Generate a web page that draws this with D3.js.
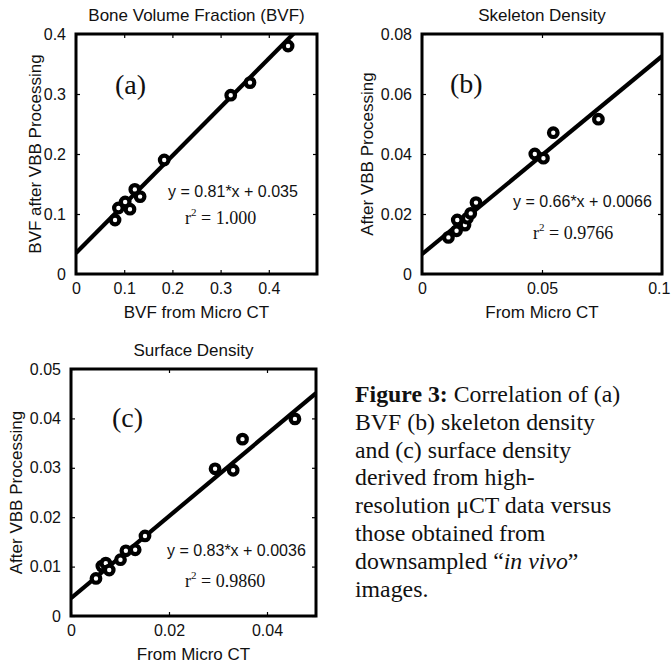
<!DOCTYPE html>
<html>
<head>
<meta charset="utf-8">
<script src="https://cdn.jsdelivr.net/npm/d3@7"></script>
<style>
  html, body { margin: 0; padding: 0; background: #fff; }
  svg { display: block; }
</style>
</head>
<body>
<svg id="chart" width="671" height="666"></svg>
<script>
// ---------------- DATA ----------------
// Panel (a): Bone Volume Fraction
const bvfMicroCT = [0.081, 0.088, 0.102, 0.112, 0.122, 0.133, 0.183, 0.321, 0.361, 0.440];
const bvfVBB     = [0.090, 0.110, 0.120, 0.108, 0.141, 0.129, 0.190, 0.298, 0.319, 0.380];
const bvfFit = [0.81, 0.035];           // slope, intercept
const bvfR2 = "1.000";
const bvfXTicks = [0, 0.1, 0.2, 0.3, 0.4];
const bvfXTickLabels = ["0", "0.1", "0.2", "0.3", "0.4"];
const bvfYTicks = [0, 0.1, 0.2, 0.3, 0.4];
const bvfYTickLabels = ["0", "0.1", "0.2", "0.3", "0.4"];
const bvfXDomain = [0, 0.5];
const bvfYDomain = [0, 0.4];

// Panel (b): Skeleton Density
const skelMicroCT = [0.0110, 0.0144, 0.0147, 0.0179, 0.0189, 0.0203, 0.0225, 0.0470, 0.0506, 0.0547, 0.0735];
const skelVBB     = [0.0122, 0.0144, 0.0180, 0.0163, 0.0186, 0.0202, 0.0238, 0.0400, 0.0386, 0.0471, 0.0516];
const skelFit = [0.66, 0.0066];
const skelR2 = "0.9766";
const skelXTicks = [0, 0.05, 0.1];
const skelXTickLabels = ["0", "0.05", "0.1"];
const skelYTicks = [0, 0.02, 0.04, 0.06, 0.08];
const skelYTickLabels = ["0", "0.02", "0.04", "0.06", "0.08"];
const skelXDomain = [0, 0.1];
const skelYDomain = [0, 0.08];

// Panel (c): Surface Density
const surfMicroCT = [0.0051, 0.0063, 0.0071, 0.0078, 0.0101, 0.0112, 0.0131, 0.0151, 0.0294, 0.0331, 0.0350, 0.0457];
const surfVBB     = [0.0076, 0.0101, 0.0107, 0.0093, 0.0114, 0.0132, 0.0134, 0.0162, 0.0298, 0.0295, 0.0358, 0.0399];
const surfFit = [0.83, 0.0036];
const surfR2 = "0.9860";
const surfXTicks = [0, 0.02, 0.04];
const surfXTickLabels = ["0", "0.02", "0.04"];
const surfYTicks = [0, 0.01, 0.02, 0.03, 0.04, 0.05];
const surfYTickLabels = ["0", "0.01", "0.02", "0.03", "0.04", "0.05"];
const surfXDomain = [0, 0.05];
const surfYDomain = [0, 0.05];

const captionLines = [
  [["Figure 3:", "bold"], [" Correlation of (a)", "normal"]],
  [["BVF (b) skeleton density", "normal"]],
  [["and (c) surface density", "normal"]],
  [["derived from high-", "normal"]],
  [["resolution \u03bcCT data versus", "normal"]],
  [["those obtained from", "normal"]],
  [["downsampled \u201c", "normal"], ["in vivo", "italic"], ["\u201d", "normal"]],
  [["images.", "normal"]]
];

// ---------------- LAYOUT ----------------
const W = 671;
const sans = '"Liberation Sans", Arial, Helvetica, sans-serif';
const serif = '"Liberation Serif", "Times New Roman", Times, serif';
const svg = d3.select("#chart");

const panels = [
  {
    id: "a", xs: bvfMicroCT, ys: bvfVBB, fit: bvfFit, r2: bvfR2,
    xDomain: bvfXDomain, yDomain: bvfYDomain,
    xTicks: bvfXTicks, xLabels: bvfXTickLabels, yTicks: bvfYTicks, yLabels: bvfYTickLabels,
    box: {x0: 76, x1: 317, y0: 34, y1: 274},
    title: "Bone Volume Fraction (BVF)", xTitle: "BVF from Micro CT", yTitle: "BVF after VBB Processing",
    yTitleX: 41,
    tag: "(a)", tagPos: [115, 94],
    eq: "y = 0.81*x + 0.035", eqPos: [168, 197],
    r2Pos: [185, 224]
  },
  {
    id: "b", xs: skelMicroCT, ys: skelVBB, fit: skelFit, r2: skelR2,
    xDomain: skelXDomain, yDomain: skelYDomain,
    xTicks: skelXTicks, xLabels: skelXTickLabels, yTicks: skelYTicks, yLabels: skelYTickLabels,
    box: {x0: 422, x1: 662, y0: 34, y1: 274},
    title: "Skeleton Density", xTitle: "From Micro CT", yTitle: "After VBB Processing",
    yTitleX: 373,
    tag: "(b)", tagPos: [450, 93],
    eq: "y = 0.66*x + 0.0066", eqPos: [513, 207],
    r2Pos: [533, 239]
  },
  {
    id: "c", xs: surfMicroCT, ys: surfVBB, fit: surfFit, r2: surfR2,
    xDomain: surfXDomain, yDomain: surfYDomain,
    xTicks: surfXTicks, xLabels: surfXTickLabels, yTicks: surfYTicks, yLabels: surfYTickLabels,
    box: {x0: 71, x1: 316, y0: 369, y1: 616},
    title: "Surface Density", xTitle: "From Micro CT", yTitle: "After VBB Processing",
    yTitleX: 22,
    tag: "(c)", tagPos: [112, 427],
    eq: "y = 0.83*x + 0.0036", eqPos: [167, 556],
    r2Pos: [185, 587]
  }
];

panels.forEach(p => {
  const b = p.box;
  const x = d3.scaleLinear().domain(p.xDomain).range([b.x0, b.x1]);
  const y = d3.scaleLinear().domain(p.yDomain).range([b.y1, b.y0]);
  const g = svg.append("g");

  g.append("clipPath").attr("id", "clip-" + p.id)
    .append("rect").attr("x", b.x0).attr("y", b.y0)
    .attr("width", b.x1 - b.x0).attr("height", b.y1 - b.y0);

  // axes (ticks inward on all four sides)
  const tickLen = 4;
  const xb = d3.axisBottom(x).tickValues(p.xTicks)
    .tickFormat((d, i) => p.xLabels[i]).tickSizeInner(-tickLen).tickSizeOuter(0).tickPadding(9);
  const xt = d3.axisTop(x).tickValues(p.xTicks).tickFormat("").tickSizeInner(-tickLen).tickSizeOuter(0);
  const yl = d3.axisLeft(y).tickValues(p.yTicks)
    .tickFormat((d, i) => p.yLabels[i]).tickSizeInner(-tickLen).tickSizeOuter(0).tickPadding(10);
  const yr = d3.axisRight(y).tickValues(p.yTicks).tickFormat("").tickSizeInner(-tickLen).tickSizeOuter(0);

  const gxb = g.append("g").attr("transform", `translate(0,${b.y1})`).call(xb);
  const gxt = g.append("g").attr("transform", `translate(0,${b.y0})`).call(xt);
  const gyl = g.append("g").attr("transform", `translate(${b.x0},0)`).call(yl);
  const gyr = g.append("g").attr("transform", `translate(${b.x1},0)`).call(yr);
  [gxb, gxt, gyl, gyr].forEach(a => {
    a.select(".domain").remove();
    a.selectAll(".tick line").attr("stroke", "#000").attr("stroke-width", 1.2);
    a.selectAll(".tick text").attr("font-family", sans).attr("font-size", 16).attr("fill", "#111");
  });
  gxb.selectAll(".tick text").attr("dy", "0.71em");
  // keep labels inside the page
  gxb.selectAll(".tick").each(function(d) {
    const t = d3.select(this).select("text");
    const bb = t.node().getBBox();
    const right = x(d) + bb.x + bb.width;
    if (right > W - 1) t.attr("x", (W - 1) - right);
  });

  // regression line
  const fx0 = p.xDomain[0], fx1 = p.xDomain[1];
  const fitPts = [[fx0, p.fit[0] * fx0 + p.fit[1]], [fx1, p.fit[0] * fx1 + p.fit[1]]];
  g.append("path")
    .attr("clip-path", `url(#clip-${p.id})`)
    .attr("d", d3.line().x(d => x(d[0])).y(d => y(d[1]))(fitPts))
    .attr("stroke", "#000").attr("stroke-width", 4.2).attr("fill", "none");

  // markers
  g.append("g").selectAll("circle")
    .data(p.xs.map((v, i) => [v, p.ys[i]]))
    .join("circle")
    .attr("cx", d => x(d[0])).attr("cy", d => y(d[1]))
    .attr("r", 4.3)
    .attr("fill", "#fff").attr("stroke", "#000").attr("stroke-width", 4.2);

  // box
  g.append("rect").attr("x", b.x0).attr("y", b.y0)
    .attr("width", b.x1 - b.x0).attr("height", b.y1 - b.y0)
    .attr("fill", "none").attr("stroke", "#000").attr("stroke-width", 3);

  // titles
  g.append("text").attr("x", (b.x0 + b.x1) / 2).attr("y", b.y0 - 13)
    .attr("text-anchor", "middle").attr("font-family", sans).attr("font-size", 17)
    .attr("fill", "#111").text(p.title);
  g.append("text").attr("x", (b.x0 + b.x1) / 2).attr("y", b.y1 + 44)
    .attr("text-anchor", "middle").attr("font-family", sans).attr("font-size", 17)
    .attr("fill", "#111").text(p.xTitle);
  g.append("text").attr("transform", `translate(${p.yTitleX},${(b.y0 + b.y1) / 2}) rotate(-90)`)
    .attr("text-anchor", "middle").attr("font-family", sans).attr("font-size", 17)
    .attr("fill", "#111").text(p.yTitle);

  // panel tag
  g.append("text").attr("x", p.tagPos[0]).attr("y", p.tagPos[1])
    .attr("font-family", serif).attr("font-size", 28).attr("fill", "#111").text(p.tag);

  // equation
  g.append("text").attr("x", p.eqPos[0]).attr("y", p.eqPos[1])
    .attr("font-family", sans).attr("font-size", 16).attr("fill", "#111").text(p.eq);

  const r2t = g.append("text").attr("x", p.r2Pos[0]).attr("y", p.r2Pos[1])
    .attr("font-family", serif).attr("font-size", 18).attr("fill", "#111");
  r2t.append("tspan").text("r");
  r2t.append("tspan").attr("font-size", 11).attr("dy", -8).text("2");
  r2t.append("tspan").attr("dy", 8).text(" = " + p.r2);
});

// caption
const cap = svg.append("g");
captionLines.forEach((line, i) => {
  const t = cap.append("text").attr("x", 355).attr("y", 402 + i * 27.8)
    .attr("font-family", serif).attr("font-size", 23.8).attr("fill", "#111");
  line.forEach(([s, style]) => {
    const ts = t.append("tspan").text(s);
    if (style === "bold") ts.attr("font-weight", "bold");
    if (style === "italic") ts.attr("font-style", "italic");
  });
});
</script>
</body>
</html>
